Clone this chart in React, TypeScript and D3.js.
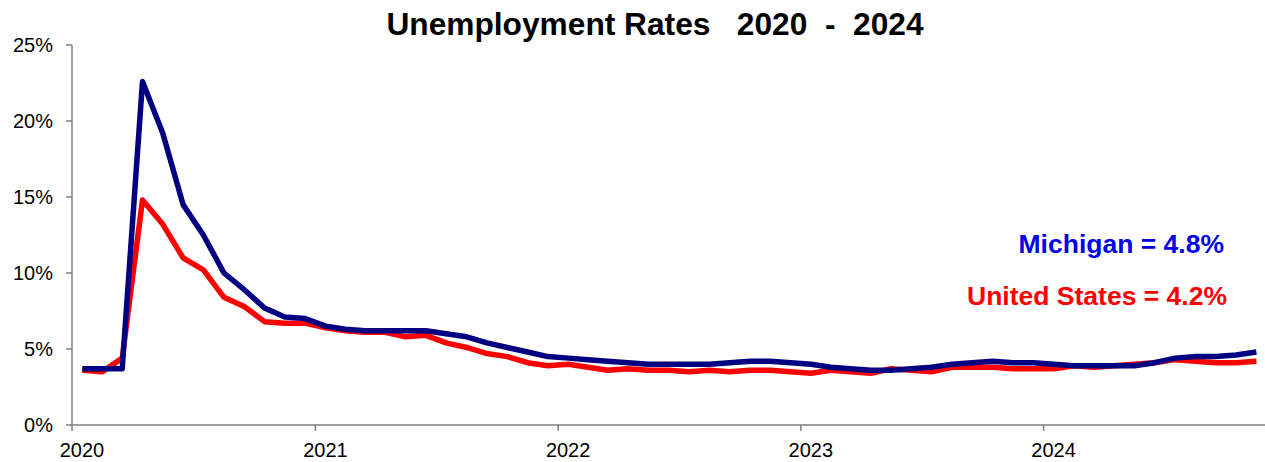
import React, { useEffect, useRef } from 'react'
import * as d3 from 'd3'

// monthly rates, Jan 2020 .. Nov 2024 (percent)
const startYear = 2020
const yearTicks = [2020, 2021, 2022, 2023, 2024]
const yTicks = [0, 5, 10, 15, 20, 25]

const michigan = [
  3.7, 3.7, 3.7, 22.6, 19.2, 14.5, 12.5, 10.0, 8.9, 7.7, 7.1, 7.0,
  6.5, 6.3, 6.2, 6.2, 6.2, 6.2, 6.0, 5.8, 5.4, 5.1, 4.8, 4.5,
  4.4, 4.3, 4.2, 4.1, 4.0, 4.0, 4.0, 4.0, 4.1, 4.2, 4.2, 4.1,
  4.0, 3.8, 3.7, 3.6, 3.6, 3.7, 3.8, 4.0, 4.1, 4.2, 4.1, 4.1,
  4.0, 3.9, 3.9, 3.9, 3.9, 4.1, 4.4, 4.5, 4.5, 4.6, 4.8
]

const unitedStates = [
  3.6, 3.5, 4.4, 14.8, 13.2, 11.0, 10.2, 8.4, 7.8, 6.8, 6.7, 6.7,
  6.4, 6.2, 6.1, 6.1, 5.8, 5.9, 5.4, 5.1, 4.7, 4.5, 4.1, 3.9,
  4.0, 3.8, 3.6, 3.7, 3.6, 3.6, 3.5, 3.6, 3.5, 3.6, 3.6, 3.5,
  3.4, 3.6, 3.5, 3.4, 3.7, 3.6, 3.5, 3.8, 3.8, 3.8, 3.7, 3.7,
  3.7, 3.9, 3.8, 3.9, 4.0, 4.1, 4.3, 4.2, 4.1, 4.1, 4.2
]

const W = 1265
const H = 462
const FONT = '"Liberation Sans", Arial, sans-serif'

export default function App() {
  const svgRef = useRef<SVGSVGElement>(null)

  useEffect(() => {
    if (!svgRef.current) return
    const svg = d3.select(svgRef.current)
    svg.selectAll('*').remove()

    const x = d3.scaleTime()
      .domain([new Date(2020, 0, 1), new Date(2025, 0, 1)])
      .range([72, 1287])
    const y = d3.scaleLinear().domain([0, 25]).range([425, 45])

    // point in the middle of each month
    const midMonth = (i: number) => {
      const a = x(new Date(startYear, i, 1))
      const b = x(new Date(startYear, i + 1, 1))
      return (a + b) / 2
    }

    // title
    svg.append('text')
      .attr('x', 655)
      .attr('y', 35)
      .attr('text-anchor', 'middle')
      .style('font-family', FONT)
      .style('font-weight', 'bold')
      .style('font-size', '31.7px')
      .style('white-space', 'pre')
      .text('Unemployment Rates   2020  -  2024')

    const axisColor = '#808080'

    // y axis
    svg.append('line')
      .attr('x1', 72).attr('x2', 72)
      .attr('y1', y(25)).attr('y2', y(0))
      .style('stroke', axisColor).style('stroke-width', 1.5)

    yTicks.forEach(t => {
      svg.append('line')
        .attr('x1', 66).attr('x2', 72)
        .attr('y1', y(t)).attr('y2', y(t))
        .style('stroke', axisColor).style('stroke-width', 1.5)
      svg.append('text')
        .attr('x', 53)
        .attr('y', y(t) + 7)
        .attr('text-anchor', 'end')
        .style('font-family', FONT)
        .style('font-size', '20px')
        .text(`${t}%`)
    })

    // x axis
    svg.append('line')
      .attr('x1', 72).attr('x2', W)
      .attr('y1', y(0)).attr('y2', y(0))
      .style('stroke', axisColor).style('stroke-width', 1.5)

    yearTicks.forEach(yr => {
      const tx = x(new Date(yr, 0, 1))
      svg.append('line')
        .attr('x1', tx).attr('x2', tx)
        .attr('y1', y(0)).attr('y2', y(0) + 6)
        .style('stroke', axisColor).style('stroke-width', 1.5)
      svg.append('text')
        .attr('x', tx + 10)
        .attr('y', 457)
        .attr('text-anchor', 'middle')
        .style('font-family', FONT)
        .style('font-size', '20px')
        .text(String(yr))
    })

    const line = d3.line<number>()
      .x((_, i) => midMonth(i))
      .y(d => y(d))

    svg.append('path')
      .datum(unitedStates)
      .attr('d', line)
      .style('fill', 'none')
      .style('stroke', '#FF0000')
      .style('stroke-width', 5.5)
      .style('stroke-linejoin', 'round')

    svg.append('path')
      .datum(michigan)
      .attr('d', line)
      .style('fill', 'none')
      .style('stroke', '#000080')
      .style('stroke-width', 5.5)
      .style('stroke-linejoin', 'round')

    // labels
    svg.append('text')
      .attr('x', 1224)
      .attr('y', 253)
      .attr('text-anchor', 'end')
      .style('font-family', FONT)
      .style('font-weight', 'bold')
      .style('font-size', '26.5px')
      .style('fill', '#0000EE')
      .text(`Michigan = ${michigan[michigan.length - 1]}%`)

    svg.append('text')
      .attr('x', 1227)
      .attr('y', 305)
      .attr('text-anchor', 'end')
      .style('font-family', FONT)
      .style('font-weight', 'bold')
      .style('font-size', '26.5px')
      .style('fill', '#FF0000')
      .text(`United States = ${unitedStates[unitedStates.length - 1]}%`)
  }, [])

  return (
    <div style={{ position: 'absolute', left: 0, top: 0 }}>
      <svg ref={svgRef} width={W} height={H} style={{ display: 'block' }} />
    </div>
  )
}
